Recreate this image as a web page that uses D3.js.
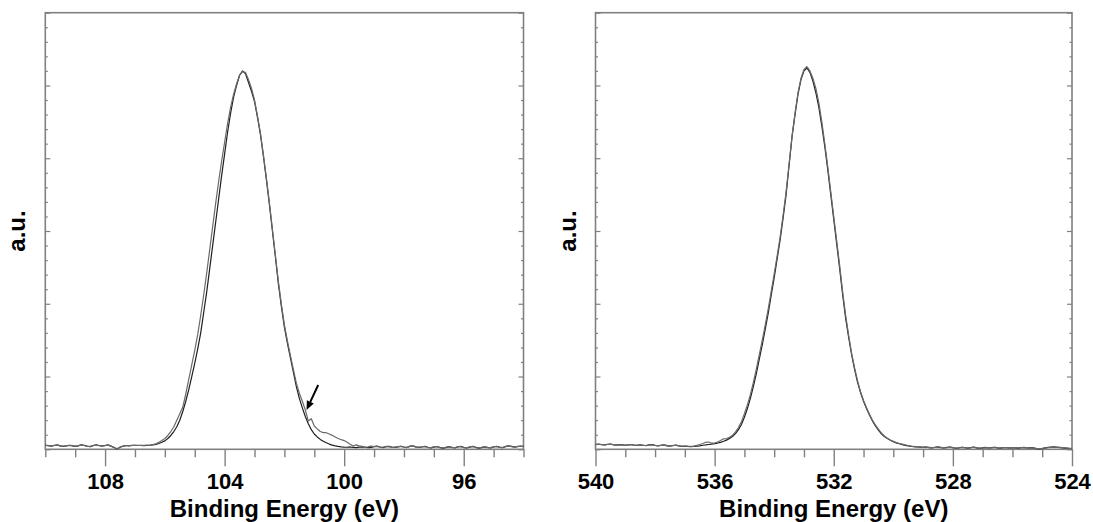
<!DOCTYPE html>
<html>
<head>
<meta charset="utf-8">
<script src="https://cdn.jsdelivr.net/npm/d3@7"></script>
<style>
  body { margin: 0; background: #fff; }
  svg { display: block; }
</style>
</head>
<body>
<svg id="chart" width="1093" height="522"></svg>
<script>
// XPS core-level spectra, intensities in arbitrary units on a 0.1 eV grid.

// Si 2p region: 110.0 eV down to 94.0 eV
const si2pRange = [110, 94];
const si2pA = [
  0.28,0.25,0.22,0.26,0.30,0.24,0.20,0.23,0.28,0.25,
  0.20,0.24,0.30,0.27,0.22,0.18,0.25,0.30,0.26,0.22,
  0.26,0.30,0.22,0.12,0.02,0.14,0.22,0.26,0.24,0.27,
  0.28,0.26,0.27,0.25,0.27,0.28,0.30,0.34,0.40,0.48,
  0.58,0.74,0.95,1.22,1.55,2.00,2.60,3.30,4.10,5.00,
  5.90,6.90,8.00,9.40,10.8,12.4,14.0,15.6,17.2,18.8,
  20.3,21.8,23.1,24.2,25.0,25.7,26.0,25.8,25.2,24.6,
  23.9,22.8,21.6,20.1,18.5,16.8,15.0,13.2,11.35,9.8,
  8.4,7.3,6.3,5.3,4.3,3.5,2.85,2.25,1.75,1.35,
  1.05,0.85,0.68,0.55,0.45,0.36,0.29,0.24,0.20,0.17,
  0.15,0.14,0.16,0.13,0.12,0.15,0.17,0.14,0.12,0.13,
  0.18,0.22,0.16,0.12,0.18,0.20,0.15,0.13,0.17,0.21,
  0.16,0.12,0.20,0.24,0.17,0.13,0.16,0.20,0.14,0.10,
  0.15,0.19,0.13,0.08,0.12,0.18,0.14,0.10,0.16,0.20,
  0.13,0.09,0.15,0.20,0.14,0.08,0.12,0.17,0.13,0.10,
  0.16,0.20,0.15,0.11,0.18,0.24,0.20,0.15,0.18,0.22,
  0.20
];
const si2pB = [
  0.27,0.25,0.24,0.27,0.29,0.23,0.21,0.24,0.27,0.24,
  0.21,0.25,0.29,0.26,0.21,0.19,0.26,0.29,0.25,0.23,
  0.25,0.29,0.21,0.13,0.04,0.15,0.21,0.25,0.25,0.26,
  0.27,0.27,0.26,0.27,0.28,0.29,0.32,0.38,0.48,0.60,
  0.74,0.95,1.22,1.55,2.00,2.45,2.90,3.80,4.80,5.80,
  6.80,7.90,9.20,10.6,12.1,13.7,15.3,16.9,18.4,19.8,
  21.1,22.4,23.5,24.4,25.1,25.7,25.95,25.9,25.4,24.8,
  24.0,22.9,21.7,20.2,18.6,16.9,15.1,13.3,11.5,9.95,
  8.55,7.45,6.45,5.5,4.55,3.85,3.3,2.7,1.95,2.1,
  1.6,1.4,1.22,1.15,1.14,1.05,0.96,0.85,0.74,0.66,
  0.60,0.48,0.34,0.22,0.30,0.24,0.20,0.15,0.17,0.22,
  0.19,0.20,0.15,0.14,0.20,0.18,0.13,0.15,0.19,0.20,
  0.14,0.13,0.22,0.22,0.15,0.14,0.18,0.19,0.12,0.11,
  0.17,0.18,0.11,0.09,0.14,0.17,0.12,0.11,0.18,0.19,
  0.11,0.10,0.17,0.19,0.12,0.09,0.14,0.16,0.11,0.12,
  0.18,0.19,0.13,0.12,0.20,0.23,0.18,0.16,0.20,0.21,
  0.19
];

// O 1s region: 540.0 eV down to 524.0 eV
const o1sRange = [540, 524];
const o1sA = [
  0.33,0.35,0.32,0.30,0.34,0.36,0.31,0.29,0.32,0.30,
  0.28,0.30,0.33,0.29,0.27,0.31,0.28,0.25,0.30,0.32,
  0.27,0.24,0.28,0.30,0.25,0.22,0.26,0.29,0.24,0.20,
  0.22,0.20,0.19,0.20,0.22,0.24,0.28,0.30,0.33,0.36,
  0.39,0.43,0.48,0.55,0.63,0.75,0.88,1.08,1.35,1.70,
  2.20,2.80,3.50,4.30,5.20,6.20,7.20,8.25,9.35,10.6,
  11.8,13.1,14.4,15.9,17.5,19.5,21.5,23.0,24.4,25.4,
  26.0,26.2,25.9,25.3,24.5,23.5,22.2,20.8,19.2,17.5,
  15.8,14.1,12.4,10.6,9.0,7.7,6.5,5.5,4.6,3.9,
  3.3,2.8,2.35,1.95,1.6,1.32,1.06,0.88,0.74,0.62,
  0.52,0.44,0.38,0.32,0.27,0.23,0.20,0.18,0.16,0.15,
  0.14,0.16,0.12,0.10,0.14,0.17,0.12,0.09,0.13,0.16,
  0.11,0.07,0.10,0.14,0.11,0.08,0.12,0.15,0.10,0.07,
  0.10,0.13,0.09,0.11,0.14,0.10,0.08,0.12,0.11,0.09,
  0.12,0.10,0.08,0.12,0.13,0.09,0.11,0.10,0.05,0.02,
  0.05,0.10,0.13,0.15,0.16,0.14,0.12,0.10,0.08,0.06,
  0.05
];
const o1sB = [
  0.32,0.34,0.33,0.31,0.33,0.35,0.32,0.30,0.31,0.31,
  0.29,0.31,0.32,0.28,0.28,0.30,0.27,0.26,0.29,0.31,
  0.26,0.25,0.27,0.29,0.24,0.23,0.25,0.28,0.23,0.21,
  0.21,0.21,0.20,0.22,0.27,0.33,0.40,0.48,0.50,0.42,
  0.43,0.50,0.60,0.72,0.74,0.82,0.96,1.20,1.50,1.90,
  2.45,3.05,3.75,4.60,5.50,6.50,7.50,8.55,9.65,10.85,
  12.05,13.3,14.6,16.1,17.7,19.6,21.5,23.1,24.5,25.5,
  26.1,26.3,26.0,25.5,24.8,23.8,22.5,21.0,19.4,17.7,
  16.0,14.3,12.6,10.8,9.2,7.85,6.6,5.6,4.7,3.95,
  3.35,2.85,2.40,2.00,1.66,1.38,1.12,0.92,0.76,0.64,
  0.55,0.46,0.40,0.36,0.30,0.26,0.22,0.19,0.17,0.16,
  0.15,0.15,0.13,0.11,0.13,0.16,0.13,0.10,0.12,0.15,
  0.12,0.08,0.09,0.13,0.12,0.09,0.11,0.14,0.11,0.08,
  0.09,0.12,0.10,0.10,0.13,0.11,0.09,0.11,0.12,0.10,
  0.11,0.11,0.09,0.11,0.12,0.10,0.10,0.09,0.06,0.04,
  0.06,0.09,0.12,0.14,0.15,0.15,0.13,0.11,0.09,0.07,
  0.06
];

const stepEV = 0.1;
const si2pTicks = [108, 104, 100, 96];
const o1sTicks = [540, 536, 532, 528, 524];
const xTitle = "Binding Energy (eV)";
const yTitle = "a.u.";
const yDomain = [0, 30];
// Marker pointing at the low-binding-energy shoulder (eV, intensity)
const shoulderArrow = { from: [100.87, 4.42], to: [101.26, 2.70] };

const frameColor = "#808080";
const seriesColors = ["#1e1e1e", "#6a6a6a"];
const plotTop = 12.7, plotBottom = 449.3;

const panels = [
  { left: 45.3, right: 523.5, range: si2pRange, series: [si2pA, si2pB], ticks: si2pTicks, arrow: shoulderArrow },
  { left: 595.5, right: 1072, range: o1sRange, series: [o1sA, o1sB], ticks: o1sTicks, arrow: null }
];

const svg = d3.select("#chart");
const font = "'Liberation Sans', Arial, Helvetica, sans-serif";

panels.forEach(p => {
  const x = d3.scaleLinear().domain(p.range).range([p.left, p.right]);
  const y = d3.scaleLinear().domain(yDomain).range([plotBottom, plotTop]);
  const g = svg.append("g");
  const lo = Math.min(...p.range), hi = Math.max(...p.range);

  // bottom axis: minor ticks every 1 eV, labelled majors every 4 eV
  const minorX = d3.range(lo, hi + 0.5, 1).filter(v => !p.ticks.includes(v));
  const bx = g.append("g").attr("transform", `translate(0,${plotBottom})`);
  bx.append("g").call(d3.axisBottom(x).tickValues(minorX).tickSize(8).tickFormat(""));
  bx.append("g").call(d3.axisBottom(x).tickValues(p.ticks).tickSize(17).tickFormat(d3.format("d")))
    .selectAll("text")
      .attr("y", 489 - plotBottom).attr("dy", 0)
      .attr("fill", "#000")
      .style("font-family", font).style("font-size", "22px").style("font-weight", "bold");
  bx.selectAll("path.domain").remove();
  bx.selectAll("line").attr("stroke", frameColor).attr("stroke-width", 1.4);

  // vertical axes: inward ticks on both sides, no labels
  const minorY = d3.range(0, 31, 1).filter(v => v % 5 !== 0);
  const majorY = d3.range(0, 31, 5);
  const ly = g.append("g").attr("transform", `translate(${p.left},0)`);
  ly.append("g").call(d3.axisLeft(y).tickValues(minorY).tickSize(-2.5).tickFormat(""));
  ly.append("g").call(d3.axisLeft(y).tickValues(majorY).tickSize(-5).tickFormat(""));
  const ry = g.append("g").attr("transform", `translate(${p.right},0)`);
  ry.append("g").call(d3.axisRight(y).tickValues(minorY).tickSize(-2.5).tickFormat(""));
  ry.append("g").call(d3.axisRight(y).tickValues(majorY).tickSize(-5).tickFormat(""));
  [ly, ry].forEach(a => {
    a.selectAll("path.domain").remove();
    a.selectAll("line").attr("stroke", frameColor).attr("stroke-width", 1.2);
  });

  // frame
  g.append("rect")
    .attr("x", p.left).attr("y", plotTop)
    .attr("width", p.right - p.left).attr("height", plotBottom - plotTop)
    .attr("fill", "none").attr("stroke", frameColor).attr("stroke-width", 1.6);

  // spectra
  const line = d3.line()
    .x((d, i) => x(p.range[0] - i * stepEV))
    .y(d => y(d));
  p.series.forEach((s, k) => {
    g.append("path").datum(s)
      .attr("d", line)
      .attr("fill", "none")
      .attr("stroke", seriesColors[k])
      .attr("stroke-width", 1.2)
      .attr("stroke-linejoin", "round");
  });

  // arrow annotation
  if (p.arrow) {
    const x0 = x(p.arrow.from[0]), y0 = y(p.arrow.from[1]);
    const x1 = x(p.arrow.to[0]), y1 = y(p.arrow.to[1]);
    const ang = Math.atan2(y1 - y0, x1 - x0);
    const headLen = 9, headHalf = 3.8;
    const bxp = x1 - headLen * Math.cos(ang), byp = y1 - headLen * Math.sin(ang);
    g.append("line")
      .attr("x1", x0).attr("y1", y0).attr("x2", bxp).attr("y2", byp)
      .attr("stroke", "#000").attr("stroke-width", 2);
    const nx = -Math.sin(ang), ny = Math.cos(ang);
    g.append("path")
      .attr("d", `M${x1},${y1}L${bxp + nx * headHalf},${byp + ny * headHalf}L${bxp - nx * headHalf},${byp - ny * headHalf}Z`)
      .attr("fill", "#000");
  }

  // axis titles
  g.append("text")
    .attr("x", (p.left + p.right) / 2).attr("y", 517)
    .attr("text-anchor", "middle")
    .style("font-family", font).style("font-size", "24px").style("font-weight", "bold")
    .text(xTitle);
  g.append("text")
    .attr("transform", `translate(${p.left - 20},${(plotTop + plotBottom) / 2}) rotate(-90)`)
    .attr("text-anchor", "middle")
    .style("font-family", font).style("font-size", "24px").style("font-weight", "bold")
    .text(yTitle);
});
</script>
</body>
</html>
